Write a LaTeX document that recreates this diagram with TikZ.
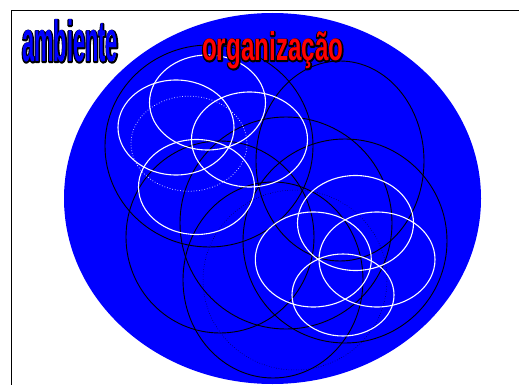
\documentclass[tikz,border=0pt]{standalone}
\usepackage{fontspec}
\setmainfont{Liberation Sans}
\newfontfamily\ambfont[FakeStretch=0.376]{Liberation Sans}
\newfontfamily\orgfont[FakeStretch=0.605]{Liberation Sans}
\newcommand\strokeonly[1]{\special{pdf:literal direct 1 Tr 0 0 0 RG 2.4 w 1 j}#1\special{pdf:literal direct 0 Tr}}
\begin{document}
\begin{tikzpicture}[x=1pt,y=-1pt,
  blk/.style={draw=black,line width=0.9pt},
  blkdot/.style={draw=black,line width=0.5pt,dotted},
  wht/.style={draw=white,line width=1.1pt},
  whtdot/.style={draw=white,line width=0.7pt,dotted},
  lbl/.style={anchor=base west,inner sep=0pt}]
\useasboundingbox (0,0) rectangle (519,385);
\draw[line width=1pt] (11.5,385) -- (11.5,10.5) -- (519,10.5);
\fill[blue] (272.5,198.5) ellipse [x radius=208.5pt,y radius=185.5pt];
% black circles
\draw[blk] (209,146) ellipse [x radius=104pt,y radius=101pt];
\draw[blk] (340,161) ellipse [x radius=84pt,y radius=100pt];
\draw[blk] (220,237) ellipse [x radius=94pt,y radius=96pt];
\draw[blk] (345,241) ellipse [x radius=102pt,y radius=102pt];
\draw[blk] (286,223) ellipse [x radius=106pt,y radius=106pt];
\draw[blk] (273,280) ellipse [x radius=90pt,y radius=98pt];
\draw[blkdot] (295,280) ellipse [x radius=92pt,y radius=90pt];
% white ellipses
\draw[wht] (207.5,102.5) ellipse [x radius=58pt,y radius=47.5pt];
\draw[wht] (176,127.5) ellipse [x radius=58pt,y radius=47.5pt];
\draw[whtdot] (189,143.7) ellipse [x radius=58pt,y radius=47.5pt];
\draw[wht] (249.5,139.5) ellipse [x radius=58pt,y radius=47.5pt];
\draw[wht] (196.5,187) ellipse [x radius=58pt,y radius=47.5pt];
\draw[wht] (355.5,223) ellipse [x radius=58pt,y radius=47.5pt];
\draw[wht] (313.3,259.5) ellipse [x radius=58pt,y radius=47.5pt];
\draw[wht] (377,259.5) ellipse [x radius=58pt,y radius=47.5pt];
\draw[wht] (343,295) ellipse [x radius=51pt,y radius=41pt];
% labels: black outline layer, then coloured fill on top
\node[lbl] (ambline) at (22,62) {\ambfont\bfseries\fontsize{58}{58}\selectfont\strokeonly{ambiente}};
\node[lbl] (amb) at (22,62) {\ambfont\bfseries\fontsize{58}{58}\selectfont\color{blue}ambiente};
\node[lbl] (orgline) at (202,61) {\orgfont\bfseries\fontsize{40}{40}\selectfont\strokeonly{organização}};
\node[lbl] (org) at (202,61) {\orgfont\bfseries\fontsize{40}{40}\selectfont\color{red}organização};
\end{tikzpicture}
\end{document}
